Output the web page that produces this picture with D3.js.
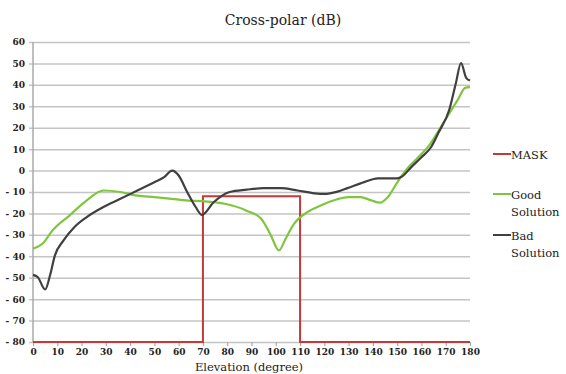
<!DOCTYPE html>
<html>
<head>
<meta charset="utf-8">
<script src="https://cdn.jsdelivr.net/npm/d3@7"></script>
<style>
  html, body { margin: 0; padding: 0; background: #fff; }
  svg { display: block; }
  svg text { font-family: "DejaVu Serif", "Liberation Serif", serif; }
</style>
</head>
<body>
<svg id="chart" width="566" height="374"></svg>
<script>
// Elevation ticks and dB ticks
const xTicks = d3.range(0, 181, 10);
const yTicks = d3.range(-80, 61, 10);

// MASK template
const maskX = [0, 70, 70, 110, 110, 180];
const maskY = [-80, -80, -12, -12, -80, -80];

// Good Solution cross-polar level (dB) against elevation (degree)
const goodX = [0, 4, 8, 15, 22, 29, 36, 43, 50, 57, 64, 70, 79, 88, 94, 98, 101.3, 104, 107.5, 113, 118.5, 125, 130, 135, 139, 143, 146, 150, 154, 158, 163, 169, 175, 178, 180];
const goodY = [-36.5, -34, -28, -21, -14, -9.3, -10, -11.7, -12.4, -13.2, -14, -14.3, -15.5, -18.7, -22.5, -30.3, -37.3, -31.9, -24.9, -19.4, -16.3, -13.5, -12.4, -12.4, -13.8, -15, -12.6, -5.6, 0.8, 5.4, 11.5, 22.2, 33.1, 38.6, 38.9];

// Bad Solution cross-polar level (dB) against elevation (degree)
const badX = [0, 2, 5, 7, 9, 12.5, 17, 22, 29, 36, 43, 50, 54, 57.3, 60, 63.5, 67, 69.6, 74.4, 81, 88, 95, 102, 109, 116, 120, 125.4, 129.5, 136.4, 142, 150, 152, 155.7, 160, 164, 167, 171.5, 174.2, 176.3, 178.4, 180];
const badY = [-48.7, -49.8, -55.5, -49, -39.7, -32.7, -26.4, -21.8, -17, -13.2, -9.3, -5.4, -3.1, 0, -2.3, -10, -17, -20.7, -14.8, -10, -8.9, -8.2, -8.2, -9.3, -10.6, -10.9, -9.8, -8.2, -5.4, -3.6, -3.6, -2.8, 1.5, 6.2, 11, 17.6, 28.5, 40.9, 50.2, 43.3, 42];

const seriesColors = ["#c43a3a", "#7fc63e", "#404040"];

const svg = d3.select("#chart");
const plotLeft = 33, plotRight = 470, plotTop = 42, plotBottom = 342;

const x = d3.scaleLinear().domain([0, 180]).range([plotLeft, plotRight]);
const y = d3.scaleLinear().domain([-80, 60]).range([plotBottom, plotTop]);

// Horizontal gridlines with small stubs left of the axis
const yAxis = d3.axisLeft(y)
  .tickValues(yTicks)
  .tickSize(-(plotRight - plotLeft + 4))
  .tickPadding(4)
  .tickFormat(d => d < 0 ? "- " + Math.abs(d) : String(d));
const yg = svg.append("g")
  .attr("transform", `translate(${plotLeft - 4},0)`)
  .call(yAxis)
  .attr("font-family", null);
yg.select(".domain").remove();
yg.selectAll(".tick line").attr("stroke", "#c4c4c4").attr("stroke-width", 1.5);
yg.selectAll(".tick text")
  .attr("fill", "#222")
  .style("font-weight", "bold")
  .style("font-size", "9px");

// Vertical axis line
svg.append("line")
  .attr("x1", plotLeft).attr("x2", plotLeft)
  .attr("y1", plotTop).attr("y2", plotBottom)
  .attr("stroke", "#aaa").attr("stroke-width", 1.5);

// Bottom axis ticks and labels
const xAxis = d3.axisBottom(x)
  .tickValues(xTicks)
  .tickSize(4)
  .tickPadding(3);
const xg = svg.append("g")
  .attr("transform", `translate(0,${plotBottom})`)
  .call(xAxis)
  .attr("font-family", null);
xg.select(".domain").remove();
xg.selectAll(".tick line").attr("stroke", "#aaa").attr("stroke-width", 1.2);
xg.selectAll(".tick text")
  .attr("fill", "#222")
  .style("font-weight", "bold")
  .style("font-size", "9px");

// Series lines
const toPoints = (xs, ys) => xs.map((v, i) => [v, ys[i]]);
const smooth = d3.line().x(d => x(d[0])).y(d => y(d[1])).curve(d3.curveMonotoneX);
const straight = d3.line().x(d => x(d[0])).y(d => y(d[1]));

svg.append("path")
  .attr("d", straight(toPoints(maskX, maskY)))
  .attr("fill", "none")
  .attr("stroke", seriesColors[0])
  .attr("stroke-width", 2);

svg.append("path")
  .attr("d", smooth(toPoints(goodX, goodY)))
  .attr("fill", "none")
  .attr("stroke", seriesColors[1])
  .attr("stroke-width", 2.2)
  .attr("stroke-linejoin", "round");

svg.append("path")
  .attr("d", smooth(toPoints(badX, badY)))
  .attr("fill", "none")
  .attr("stroke", seriesColors[2])
  .attr("stroke-width", 2.2)
  .attr("stroke-linejoin", "round");

// Title
svg.append("text")
  .attr("x", 283).attr("y", 25)
  .attr("text-anchor", "middle")
  .style("font-size", "14px")
  .attr("fill", "#222")
  .text("Cross-polar (dB)");

// X axis title
svg.append("text")
  .attr("x", 249).attr("y", 371)
  .attr("text-anchor", "middle")
  .style("font-size", "11.5px")
  .attr("fill", "#222")
  .text("Elevation (degree)");

// Legend
const legendRows = [
  { lines: ["MASK"], y: 154 },
  { lines: ["Good", "Solution"], y: 194 },
  { lines: ["Bad", "Solution"], y: 235 }
];
const lg = svg.append("g");
legendRows.forEach((r, i) => {
  lg.append("line")
    .attr("x1", 493).attr("x2", 511)
    .attr("y1", r.y).attr("y2", r.y)
    .attr("stroke", seriesColors[i])
    .attr("stroke-width", 2);
  const t = lg.append("text")
    .attr("x", 511).attr("y", r.y + 5)
    .style("font-size", "11.5px")
    .attr("fill", "#222");
  r.lines.forEach((s, j) => {
    t.append("tspan").attr("x", 511).attr("dy", j === 0 ? 0 : 16.5).text(s);
  });
});
</script>
</body>
</html>
